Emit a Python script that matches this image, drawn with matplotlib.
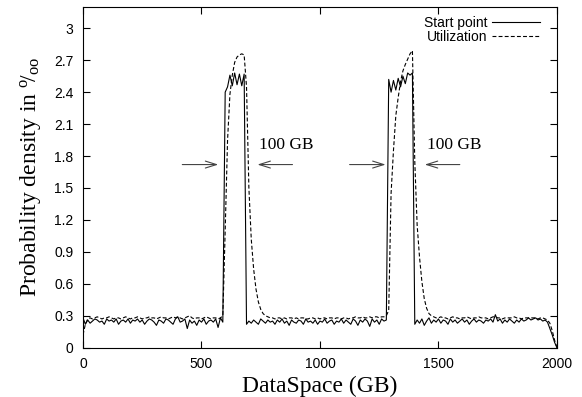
import numpy as np
import matplotlib
matplotlib.use("Agg")
import matplotlib.pyplot as plt

# ---------------- data ----------------
dataspace = np.arange(0, 2001, 10)  # GB

start_point = [
    # 0 - 590
    0.28, 0.22, 0.26, 0.23, 0.25, 0.27, 0.26, 0.24, 0.25, 0.22,
    0.27, 0.25, 0.26, 0.24, 0.27, 0.22, 0.25, 0.26, 0.24, 0.27,
    0.23, 0.26, 0.25, 0.27, 0.24, 0.26, 0.22, 0.25, 0.27, 0.26,
    0.24, 0.21, 0.26, 0.25, 0.23, 0.27, 0.26, 0.24, 0.22, 0.27,
    0.29, 0.24, 0.25, 0.27, 0.18, 0.26, 0.23, 0.25, 0.21, 0.26,
    0.24, 0.27, 0.22, 0.25, 0.26, 0.24, 0.27, 0.19, 0.28, 0.24,
    # 600 - 680
    2.40, 2.45, 2.56, 2.46, 2.58, 2.47, 2.57, 2.46, 2.57,
    # 690 - 790
    0.22, 0.25, 0.23, 0.26, 0.24, 0.22, 0.27, 0.25, 0.23, 0.26, 0.24,
    # 800 - 1280
    0.25, 0.22, 0.26, 0.24, 0.27, 0.23, 0.25, 0.21, 0.26, 0.24,
    0.23, 0.26, 0.25, 0.22, 0.27, 0.24, 0.25, 0.23, 0.26, 0.22,
    0.25, 0.24, 0.27, 0.23, 0.25, 0.26, 0.22, 0.25, 0.24, 0.27,
    0.23, 0.26, 0.24, 0.22, 0.27, 0.25, 0.21, 0.26, 0.24, 0.27,
    0.25, 0.20, 0.27, 0.24, 0.26, 0.22, 0.27, 0.25, 0.26,
    # 1290 - 1390
    2.52, 2.40, 2.51, 2.42, 2.53, 2.45, 2.55, 2.48, 2.58, 2.56, 2.58,
    # 1400 - 2000
    0.22, 0.26, 0.23, 0.27, 0.21, 0.25, 0.28, 0.23, 0.26, 0.24,
    0.27, 0.23, 0.26, 0.25, 0.22, 0.27, 0.24, 0.26, 0.23, 0.25,
    0.27, 0.24, 0.26, 0.22, 0.25, 0.27, 0.24, 0.26, 0.25, 0.23,
    0.26, 0.25, 0.27, 0.24, 0.31, 0.25, 0.27, 0.23, 0.26, 0.24,
    0.27, 0.25, 0.23, 0.26, 0.24, 0.27, 0.25, 0.26, 0.28, 0.26,
    0.27, 0.28, 0.26, 0.27, 0.25, 0.26,
    0.24, 0.18, 0.12, 0.05, 0.00,
]

utilization = [
    # 0 - 590
    0.12, 0.22, 0.27, 0.28, 0.27, 0.28, 0.29, 0.28, 0.27, 0.28,
    0.28, 0.29, 0.28, 0.27, 0.28, 0.28, 0.27, 0.28, 0.29, 0.28,
    0.27, 0.28, 0.28, 0.29, 0.28, 0.27, 0.28, 0.28, 0.29, 0.28,
    0.28, 0.27, 0.28, 0.29, 0.28, 0.28, 0.27, 0.28, 0.29, 0.28,
    0.29, 0.28, 0.27, 0.28, 0.29, 0.30, 0.28, 0.27, 0.28, 0.28,
    0.27, 0.28, 0.29, 0.28, 0.27, 0.28, 0.28, 0.27, 0.28, 0.30,
    # 600 - 680
    1.10, 1.95, 2.38, 2.56, 2.68, 2.73, 2.75, 2.76, 2.75,
    # 690 - 790
    2.45, 1.50, 1.02, 0.74, 0.55, 0.43, 0.36, 0.32, 0.30, 0.29, 0.28,
    # 800 - 1280
    0.28, 0.27, 0.28, 0.28, 0.27, 0.28, 0.27, 0.28, 0.28, 0.27,
    0.28, 0.27, 0.28, 0.28, 0.27, 0.27, 0.28, 0.28, 0.27, 0.28,
    0.27, 0.28, 0.28, 0.27, 0.28, 0.28, 0.27, 0.28, 0.28, 0.27,
    0.28, 0.28, 0.27, 0.28, 0.28, 0.29, 0.28, 0.28, 0.29, 0.28,
    0.28, 0.29, 0.28, 0.29, 0.29, 0.28, 0.29, 0.29, 0.30,
    # 1290 - 1390
    0.35, 1.45, 1.85, 2.18, 2.35, 2.50, 2.60, 2.66, 2.71, 2.76, 2.79,
    # 1400 - 2000
    1.75, 1.15, 0.85, 0.62, 0.46, 0.37, 0.32, 0.30, 0.29, 0.28,
    0.28, 0.29, 0.28, 0.28, 0.27, 0.28, 0.29, 0.28, 0.28, 0.27,
    0.28, 0.28, 0.29, 0.28, 0.27, 0.28, 0.28, 0.29, 0.28, 0.28,
    0.28, 0.27, 0.28, 0.29, 0.29, 0.28, 0.28, 0.27, 0.28, 0.28,
    0.28, 0.28, 0.29, 0.28, 0.28, 0.27, 0.28, 0.28, 0.28, 0.28,
    0.28, 0.28, 0.27, 0.28, 0.28, 0.27,
    0.26, 0.23, 0.16, 0.07, 0.00,
]

x_ticks = [0, 500, 1000, 1500, 2000]
y_ticks = [0, 0.3, 0.6, 0.9, 1.2, 1.5, 1.8, 2.1, 2.4, 2.7, 3.0]
y_tick_labels = ["0", "0.3", "0.6", "0.9", "1.2", "1.5", "1.8", "2.1", "2.4", "2.7", "3"]

# arrows: (left arrow start, left arrow end, right arrow start, right arrow end, label x)
arrow_y = 1.72
label_y = 1.90
peaks_arrows = [
    (419, 571, 884, 736, 744),
    (1125, 1277, 1590, 1442, 1450),
]

# ---------------- plot ----------------
plt.rcParams["font.family"] = ["Liberation Sans", "DejaVu Sans"]
plt.rcParams["mathtext.fontset"] = "custom"
plt.rcParams["mathtext.rm"] = "Liberation Serif"
plt.rcParams["mathtext.it"] = "Liberation Serif:italic"

fig = plt.figure(figsize=(5.82, 3.97), dpi=100)
ax = fig.add_axes([0.1426, 0.1242, 0.957 - 0.1426, 0.9824 - 0.1242])

ax.plot(dataspace, start_point, color="black", lw=0.8, label="Start point")
ax.plot(dataspace, utilization, color="black", lw=0.8, ls=(0, (3.5, 2.0)),
        label="Utilization")

ax.set_xlim(0, 2000)
ax.set_ylim(0, 3.2)
ax.set_xticks(x_ticks)
ax.set_xticklabels([str(v) for v in x_ticks])
ax.set_yticks(y_ticks)
ax.set_yticklabels(y_tick_labels)
ax.tick_params(direction="in", length=5, width=0.8, top=True, right=True,
               labelsize=10, pad=7, colors="black")
for sp in ax.spines.values():
    sp.set_linewidth(0.8)

serif = ["Liberation Serif", "DejaVu Serif"]
ax.set_xlabel("DataSpace (GB)", fontsize=17, family=serif, labelpad=3)
ax.set_ylabel(r"Probability density in $^{\mathrm{o}}\!/_{\mathrm{oo}}$",
              fontsize=17, family=serif, labelpad=8)

for l0, l1, r0, r1, tx in peaks_arrows:
    for a, b in ((l0, l1), (r0, r1)):
        ax.annotate("", xy=(b, arrow_y), xytext=(a, arrow_y),
                    arrowprops=dict(arrowstyle="->,head_length=0.8,head_width=0.25",
                                    color="#444444", lw=0.8, shrinkA=0, shrinkB=0))
    ax.text(tx, label_y, "100 GB", fontsize=12.5, family=serif,
            ha="left", va="center")

leg = ax.legend(loc="upper right", bbox_to_anchor=(0.965, 0.973),
                frameon=False, markerfirst=False,
                fontsize=10, handlelength=3.5, handletextpad=0.3,
                labelspacing=0.0, borderaxespad=0.0, borderpad=0.0)

fig.savefig("out.png", dpi=100)
